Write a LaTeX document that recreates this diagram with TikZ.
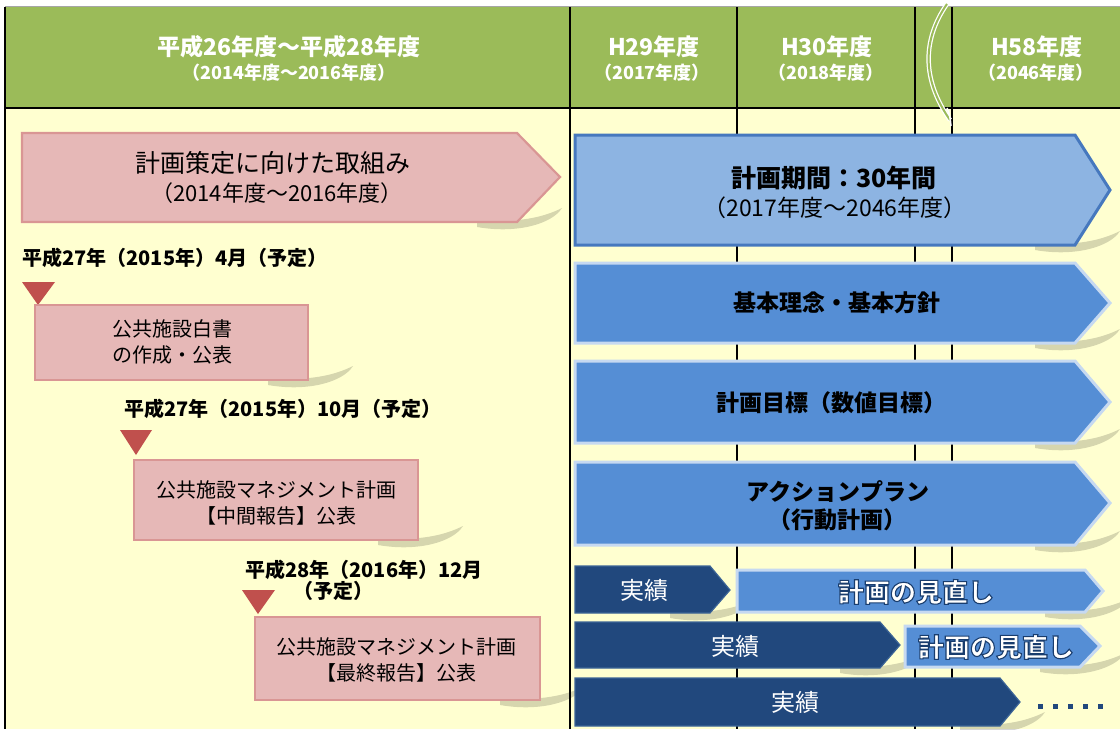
\documentclass[tikz,border=0pt]{standalone}
\usepackage{fontspec}
\setmainfont{Noto Sans CJK JP}
\definecolor{hdrgreen}{RGB}{155,187,89}
\definecolor{bodyyel}{RGB}{255,255,208}
\definecolor{pinkfill}{RGB}{230,184,183}
\definecolor{pinkedge}{RGB}{217,150,148}
\definecolor{trired}{RGB}{192,80,77}
\definecolor{bluelight}{RGB}{141,180,226}
\definecolor{blueedge}{RGB}{70,120,190}
\definecolor{bluemid}{RGB}{85,142,213}
\definecolor{bluerim}{RGB}{198,217,241}
\definecolor{bluedark}{RGB}{33,72,125}
\definecolor{bluedarkrim}{RGB}{60,100,150}
\newcommand\fs[1]{\fontsize{#1}{#1}\selectfont}
\newcommand\shadowfor[2]{% x of right corner, y of bottom
  \fill[black,opacity=0.16] (#1-40,#2-2) .. controls (#1,#2+1) and (#1+25,#2-4) .. (#1+45,#2-14)
    .. controls (#1+35,#2+2) and (#1,#2+12) .. (#1-40,#2+5) -- cycle;}
% white text with a dark blue outline (PDF text render mode 2)
\newcommand\outlinedtext[1]{{\color{white}\special{pdf:code 0.10 0.24 0.43 RG 1.1 w 2 Tr}#1\special{pdf:code 0 Tr 0.4 w}}}
\begin{document}
\begin{tikzpicture}[x=1pt,y=-1pt,
  gridline/.style={draw=black,line width=1.6pt},
  hdrbig/.style={text=white,font=\bfseries\fs{23},inner sep=0},
  hdrsmall/.style={text=white,font=\bfseries\fs{18},inner sep=0},
  pinkbox/.style={fill=pinkfill,draw=pinkedge,line width=2.2pt},
  bigblue/.style={fill=bluelight,draw=blueedge,line width=3pt,line join=miter},
  midblue/.style={fill=bluemid,draw=bluerim,line width=3pt},
  darkblue/.style={fill=bluedark,draw=bluedarkrim,line width=1.2pt},
  tri/.style={fill=trired},
  lbl/.style={font=\bfseries\fs{20},inner sep=0,anchor=west},
  boxtxt/.style={font=\fs{20},inner sep=0,align=center},
  bluetxt/.style={font=\bfseries\fs{23},inner sep=0,align=center},
  rvtext/.style={font=\bfseries\fs{26},inner sep=0},
  jtxt/.style={text=white,font=\fs{24},inner sep=0}
]
\useasboundingbox (0,0) rectangle (1120,729);
\fill[white] (0,0) rectangle (1120,729);
\fill[bodyyel] (5,108) rectangle (1120,729);
\fill[hdrgreen] (5,7) rectangle (1120,108);
\draw[draw=gray!70,line width=1pt] (5,6.5) -- (1120,6.5);
\draw[gridline] (5,7) -- (5,729);
\draw[gridline] (5,108) -- (1120,108);
\foreach \x in {570,737,915,952} \draw[gridline] (\x,7) -- (\x,729);
% break mark
\draw[white,line width=4.5pt] (947,4) .. controls (922,40) and (922,80) .. (950,120);
\draw[hdrgreen,line width=2pt] (947,4) .. controls (922,40) and (922,80) .. (950,120);
\draw[white,line width=1.5pt] (947,108) .. controls (949,112) and (950,116) .. (951,126);
% header texts
\node[hdrbig] (h1) at (289,47) {平成26年度～平成28年度};
\node[hdrsmall] (h1s) at (289,73) {（2014年度～2016年度）};
\node[hdrbig] (h2) at (654,47) {H29年度};
\node[hdrsmall] (h2s) at (652,73) {（2017年度）};
\node[hdrbig] (h3) at (827,47) {H30年度};
\node[hdrsmall] (h3s) at (826,73) {（2018年度）};
\node[hdrbig] (h4) at (1037,47) {H58年度};
\node[hdrsmall] (h4s) at (1036,73) {（2046年度）};
% shadows
\shadowfor{517}{222}
\shadowfor{308}{380}
\shadowfor{418}{540}
\shadowfor{540}{700}
\shadowfor{1075}{245}
\shadowfor{1075}{343}
\shadowfor{1075}{443}
\shadowfor{1075}{545}
\shadowfor{1085}{612}
\shadowfor{1080}{667}
\shadowfor{710}{613}
\shadowfor{880}{668}
\shadowfor{1000}{726}
% pink left
\draw[pinkbox] (22,133) -- (517,133) -- (560,177) -- (517,222) -- (22,222) -- cycle;
\node[font=\fs{25},inner sep=0] (p1) at (273,163) {計画策定に向けた取組み};
\node[font=\fs{22},inner sep=0] (p1s) at (277,193) {（2014年度～2016年度）};
\node[lbl] (l1) at (22,258) {平成27年（2015年）4月（予定）};
\fill[tri] (22,282) -- (55,282) -- (38,305) -- cycle;
\draw[pinkbox] (35,305) rectangle (308,380);
\node[boxtxt] (b1) at (172,342) {公共施設白書\\[6pt]の作成・公表};
\node[lbl] (l2) at (124,409) {平成27年（2015年）10月（予定）};
\fill[tri] (120,430) -- (152,430) -- (136,455) -- cycle;
\draw[pinkbox] (134,460) rectangle (418,540);
\node[boxtxt] (b2) at (276,503) {公共施設マネジメント計画\\[6pt]【中間報告】公表};
\node[lbl] (l3) at (245,570) {平成28年（2016年）12月};
\node[lbl] (l3s) at (293,591) {（予定）};
\fill[tri] (242,590) -- (275,590) -- (258,614) -- cycle;
\draw[pinkbox] (255,617) rectangle (540,700);
\node[boxtxt] (b3) at (396,660) {公共施設マネジメント計画\\[6pt]【最終報告】公表};
% blue right
\draw[bigblue] (575,135) -- (1075,135) -- (1110,190) -- (1075,245) -- (575,245) -- cycle;
\node[font=\bfseries\fs{25},inner sep=0] (q1) at (834,178) {計画期間：30年間};
\node[font=\fs{23},inner sep=0] (q1s) at (835,208) {（2017年度～2046年度）};
\draw[midblue] (575,263) -- (1075,263) -- (1110,303) -- (1075,343) -- (575,343) -- cycle;
\node[bluetxt] (q2) at (837,303) {基本理念・基本方針};
\draw[midblue] (575,361) -- (1075,361) -- (1110,402) -- (1075,443) -- (575,443) -- cycle;
\node[bluetxt] (q3) at (831,403) {計画目標（数値目標）};
\draw[midblue] (575,462) -- (1075,462) -- (1110,503) -- (1075,545) -- (575,545) -- cycle;
\node[bluetxt] (q4) at (838,492) {アクションプラン};
\node[bluetxt] (q4s) at (837,520) {（行動計画）};
% bottom rows
\draw[darkblue] (575,566) -- (710,566) -- (730,590) -- (710,613) -- (575,613) -- cycle;
\node[jtxt] (j1) at (644,590) {実績};
\draw[midblue] (737,570) -- (1085,570) -- (1103,591) -- (1085,612) -- (737,612) -- cycle;
\node[rvtext] (r1) at (916,592) {\outlinedtext{計画の見直し}};
\draw[darkblue] (575,622) -- (880,622) -- (900,645) -- (880,668) -- (575,668) -- cycle;
\node[jtxt] (j2) at (735,646) {実績};
\draw[midblue] (905,626) -- (1080,626) -- (1100,646) -- (1080,667) -- (905,667) -- cycle;
\node[rvtext] (r2) at (996,647) {\outlinedtext{計画の見直し}};
\draw[darkblue] (575,678) -- (1000,678) -- (1020,702) -- (1000,726) -- (575,726) -- cycle;
\node[jtxt] (j3) at (795,702) {実績};
\foreach \x in {1040,1055,1070,1085,1100} \fill[bluedark] (\x-2.5,703.5) rectangle (\x+2.5,708.5);
\end{tikzpicture}
\end{document}
